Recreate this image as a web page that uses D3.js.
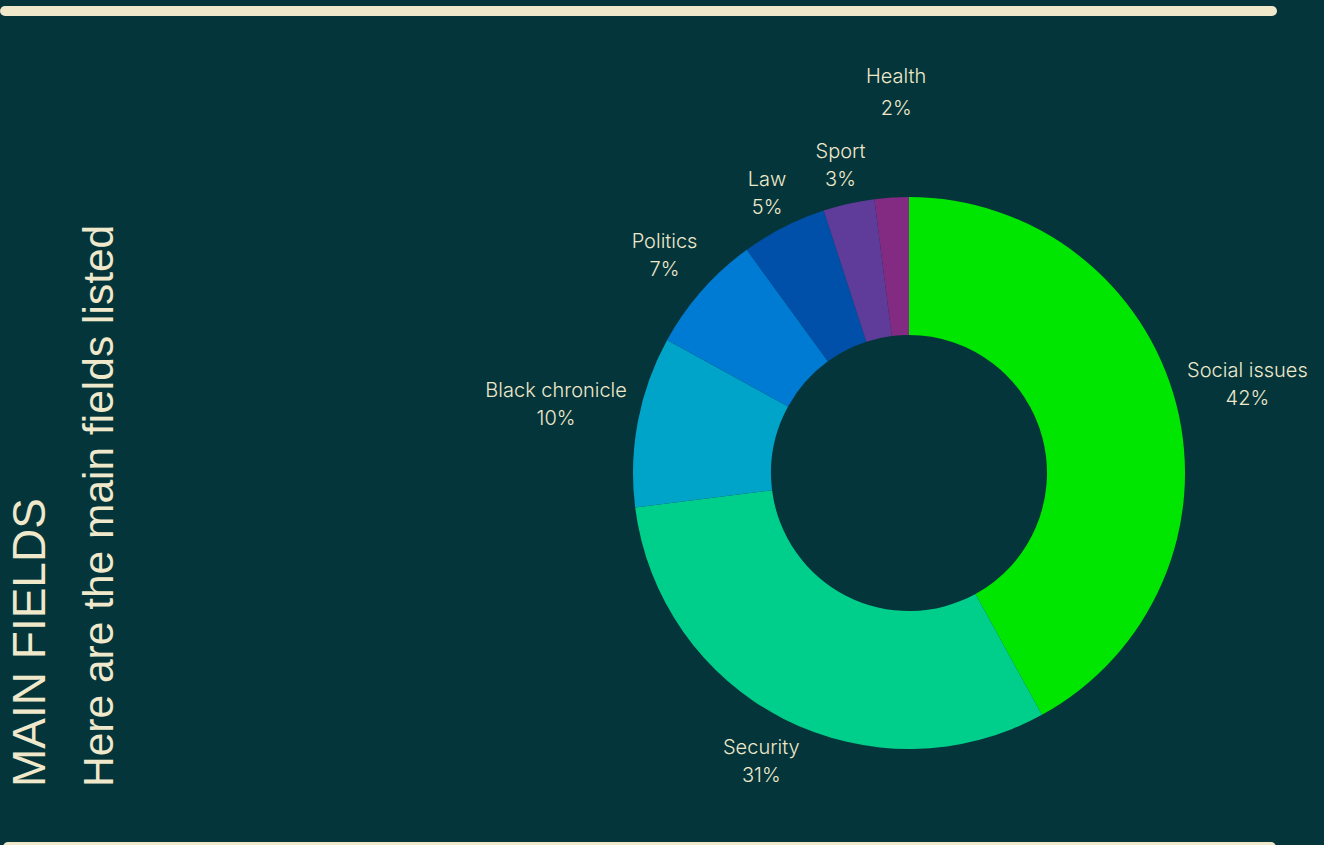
<!DOCTYPE html>
<html>
<head>
<meta charset="utf-8">
<script src="https://cdn.jsdelivr.net/npm/d3@7"></script>
<style>
  html, body { margin: 0; padding: 0; background: #03353a; overflow: hidden; }
  svg { display: block; }
</style>
</head>
<body>
<svg id="chart" width="1324" height="845"></svg>
<script>
// Share of items per field
const categories = ["Social issues", "Security", "Black chronicle", "Politics", "Law", "Sport", "Health"];
const shares = [42, 31, 10, 7, 5, 3, 2];
const sliceColors = ["#00e600", "#00cf8b", "#00a4c9", "#007bd3", "#0050a9", "#5f3c9a", "#832a83"];
const titleText = "MAIN FIELDS";
const subtitleText = "Here are the main fields listed";

const W = 1324, H = 845;
const bg = "#03353a", cream = "#efe8cb";
const svg = d3.select("#chart");

svg.append("rect").attr("width", W).attr("height", H).attr("fill", bg);

// Frame rules, top and bottom
svg.append("line").attr("x1", 5).attr("x2", 1272).attr("y1", 11).attr("y2", 11)
  .attr("stroke", cream).attr("stroke-width", 10).attr("stroke-linecap", "round");
svg.append("line").attr("x1", 8).attr("x2", 1271).attr("y1", 847).attr("y2", 847)
  .attr("stroke", cream).attr("stroke-width", 10).attr("stroke-linecap", "round");

// Vertical title block
const titleFont = "'Liberation Sans', Arial, sans-serif";
svg.append("text")
  .attr("transform", "translate(45,787) rotate(-90)")
  .attr("font-family", titleFont).attr("font-size", 46).attr("fill", cream)
  .text(titleText);
svg.append("text")
  .attr("transform", "translate(113,787) rotate(-90)")
  .attr("font-family", titleFont).attr("font-size", 42.5).attr("fill", cream)
  .text(subtitleText);

// Donut
const cx = 909, cy = 473, rOuter = 276, rInner = 138;
const data = categories.map((c, i) => ({ name: c, value: shares[i], color: sliceColors[i] }));
const pie = d3.pie().value(d => d.value).sort(null);
const arcs = pie(data);
const arc = d3.arc().innerRadius(rInner).outerRadius(rOuter);

const g = svg.append("g").attr("transform", `translate(${cx},${cy})`);
g.selectAll("path.slice").data(arcs).join("path")
  .attr("class", "slice")
  .attr("d", arc)
  .attr("fill", d => d.data.color);

// Labels: two-line text boxes pushed just outside the ring along each slice's mid-angle
const labelFont = "Inter, 'Open Sans', sans-serif";
const lineGap = 28, halfH = 20, pad = 10;
// the smallest slice's label is lifted clear of its neighbour
const nudge = {
  "Health": { r: 72, dx: 11, gap: 32 },
  "Sport": { r: 3, dx: 0 },
  "Security": { r: 4, dx: 0 },
  "Politics": { r: 2, dx: 0 }
};
const labels = g.selectAll("g.label").data(arcs).join("g").attr("class", "label");
labels.each(function (d) {
  const el = d3.select(this);
  const t1 = el.append("text").text(d.data.name);
  const t2 = el.append("text").text(d3.format("d")(d.data.value) + "%");
  [t1, t2].forEach(t => t.attr("font-family", labelFont).attr("font-size", 20)
    .attr("font-weight", 300)
    .attr("fill", cream).attr("text-anchor", "middle").attr("dominant-baseline", "central"));
  const w = Math.max(t1.node().getComputedTextLength(), t2.node().getComputedTextLength());
  const a = (d.startAngle + d.endAngle) / 2;
  const s = Math.sin(a), c = Math.cos(a);
  const n = nudge[d.data.name] || { r: 0, dx: 0 };
  const r = rOuter + pad + (w / 2) * Math.abs(s) + halfH * Math.abs(c) + n.r;
  const x = r * s + n.dx, y = -r * c - 2;
  const gap = n.gap || lineGap;
  t1.attr("x", x).attr("y", y - gap / 2);
  t2.attr("x", x).attr("y", y + gap / 2);
});
</script>
</body>
</html>
